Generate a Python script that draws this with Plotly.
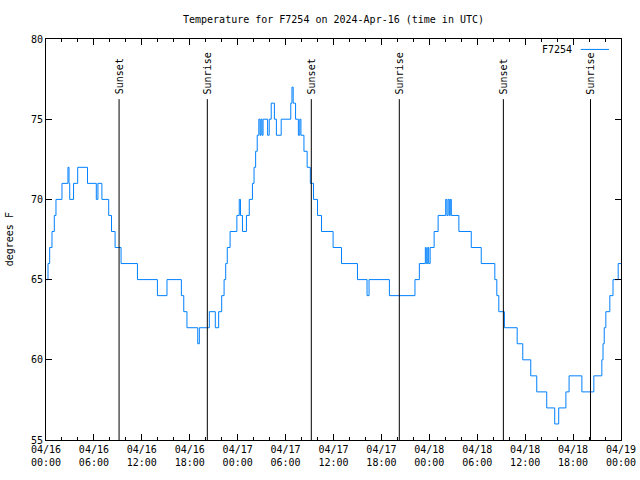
import plotly.graph_objects as go

# Temperature change points (hours since 2024-04-16 00:00 UTC, deg F)
change_hours = [0.0, 0.25, 0.46, 0.75, 1.04, 1.25, 2.0, 2.75, 2.88, 2.97, 3.45, 3.97, 5.2, 6.3, 6.5, 7.0,
                7.85, 8.2, 8.65, 9.4, 11.45, 13.95, 15.15, 16.95, 17.25, 17.65, 19.0, 19.2, 20.45, 21.2,
                21.62, 22.0, 22.3, 22.5, 22.7, 23.05, 23.9, 24.2, 24.35, 24.6, 25.1, 25.45, 25.85, 26.05,
                26.25, 26.45, 26.65, 26.8, 26.92, 27.05, 27.18, 27.75, 27.95, 28.2, 28.6, 28.85, 29.45,
                30.65, 30.8, 30.95, 31.25, 31.6, 31.78, 31.92, 32.3, 32.7, 33.1, 33.5, 34.0, 34.5, 35.95,
                37.0, 39.0, 40.2, 40.45, 43.0, 46.2, 46.75, 47.5, 47.62, 47.8, 47.92, 48.1, 48.6, 49.1,
                50.05, 50.2, 50.35, 50.5, 50.62, 50.75, 51.7, 53.25, 54.5, 56.2, 56.45, 56.7, 57.4, 59.0,
                59.7, 60.7, 61.45, 62.7, 63.7, 64.2, 65.1, 65.5, 67.1, 68.6, 69.6, 69.75, 69.9, 70.1,
                70.6, 71.0, 71.65, 72.0]
temps = [65, 66, 67, 68, 69, 70, 71, 72, 71, 70, 71, 72, 71, 70, 71, 70,
         69, 68, 67, 66, 65, 64, 65, 64, 63, 62, 61, 62, 63, 62,
         63, 64, 65, 66, 67, 68, 69, 70, 69, 68, 69, 70, 71, 72,
         73, 74, 75, 74, 75, 74, 75, 74, 75, 76, 75, 74, 75,
         76, 77, 76, 75, 74, 75, 74, 73, 72, 71, 70, 69, 68, 67,
         66, 65, 64, 65, 64, 65, 66, 67, 66, 67, 66, 67, 68, 69,
         70, 69, 70, 69, 70, 69, 68, 67, 66, 65, 64, 63, 62, 61,
         60, 59, 58, 57, 56, 57, 58, 59, 58, 59, 60, 61, 62, 63,
         64, 65, 66, 66]

sun_events = ["Sunset", "Sunrise", "Sunset", "Sunrise", "Sunset", "Sunrise"]
sun_hours = [9.15, 20.2, 33.22, 44.24, 57.27, 68.18]

tick_hours = [0, 6, 12, 18, 24, 30, 36, 42, 48, 54, 60, 66, 72]
tick_labels = ["04/16<br>00:00", "04/16<br>06:00", "04/16<br>12:00", "04/16<br>18:00",
               "04/17<br>00:00", "04/17<br>06:00", "04/17<br>12:00", "04/17<br>18:00",
               "04/18<br>00:00", "04/18<br>06:00", "04/18<br>12:00", "04/18<br>18:00",
               "04/19<br>00:00"]

FONT = "DejaVu Sans Mono"
LINE_COLOR = "#0080ff"

fig = go.Figure()
fig.add_trace(go.Scatter(x=change_hours, y=temps, mode="lines", line=dict(color=LINE_COLOR, width=1, shape="hv"),
                         name="F7254", showlegend=False, hoverinfo="skip"))

line_top = 76.25
for name, h in zip(sun_events, sun_hours):
    fig.add_shape(type="line", xref="x", yref="y", x0=h, x1=h, y0=55, y1=line_top,
                  line=dict(color="black", width=1))
    fig.add_annotation(x=h, y=line_top, xref="x", yref="y", text=name, showarrow=False,
                       textangle=-90, xanchor="center", yanchor="bottom", yshift=3,
                       font=dict(family=FONT, size=10, color="black"))

# manual legend (gnuplot style: text then sample)
fig.add_annotation(x=0.918, y=0.974, xref="paper", yref="paper", text="F7254", showarrow=False,
                   xanchor="right", yanchor="middle", font=dict(family=FONT, size=10, color="black"))
fig.add_shape(type="line", xref="paper", yref="paper", x0=0.930, x1=0.979, y0=0.974, y1=0.974,
              line=dict(color=LINE_COLOR, width=1))

fig.add_annotation(x=-0.063, y=0.5, xref="paper", yref="paper", text="degrees F", showarrow=False,
                   textangle=-90, xanchor="center", yanchor="middle",
                   font=dict(family=FONT, size=10, color="black"))

fig.update_layout(
    width=640, height=480,
    margin=dict(l=46, r=19, t=39, b=40, autoexpand=False),
    paper_bgcolor="white", plot_bgcolor="white",
    title=dict(text="Temperature for F7254 on 2024-Apr-16 (time in UTC)", x=0.5, xref="paper",
               y=1 - 19 / 480, yref="container", xanchor="center", yanchor="middle",
               font=dict(family=FONT, size=10, color="black")),
    font=dict(family=FONT, size=10, color="black"),
    xaxis=dict(range=[0, 72], tickmode="array", tickvals=tick_hours, ticktext=tick_labels,
               ticks="inside", ticklen=6, tickcolor="black", showline=True, linecolor="black",
               linewidth=1, mirror="ticks", showgrid=False, zeroline=False, automargin=False,
               minor=dict(tickmode="linear", tick0=0, dtick=2, ticks="inside", ticklen=3,
                          tickcolor="black", showgrid=False),
               tickfont=dict(family=FONT, size=10, color="black")),
    yaxis=dict(range=[55, 80], tickmode="linear", tick0=55, dtick=5, ticks="inside", ticklen=6,
               tickcolor="black", showline=True, linecolor="black", linewidth=1, mirror="ticks",
               showgrid=False, zeroline=False, automargin=False,
               tickfont=dict(family=FONT, size=10, color="black")),
)

fig.write_html("out.html")
